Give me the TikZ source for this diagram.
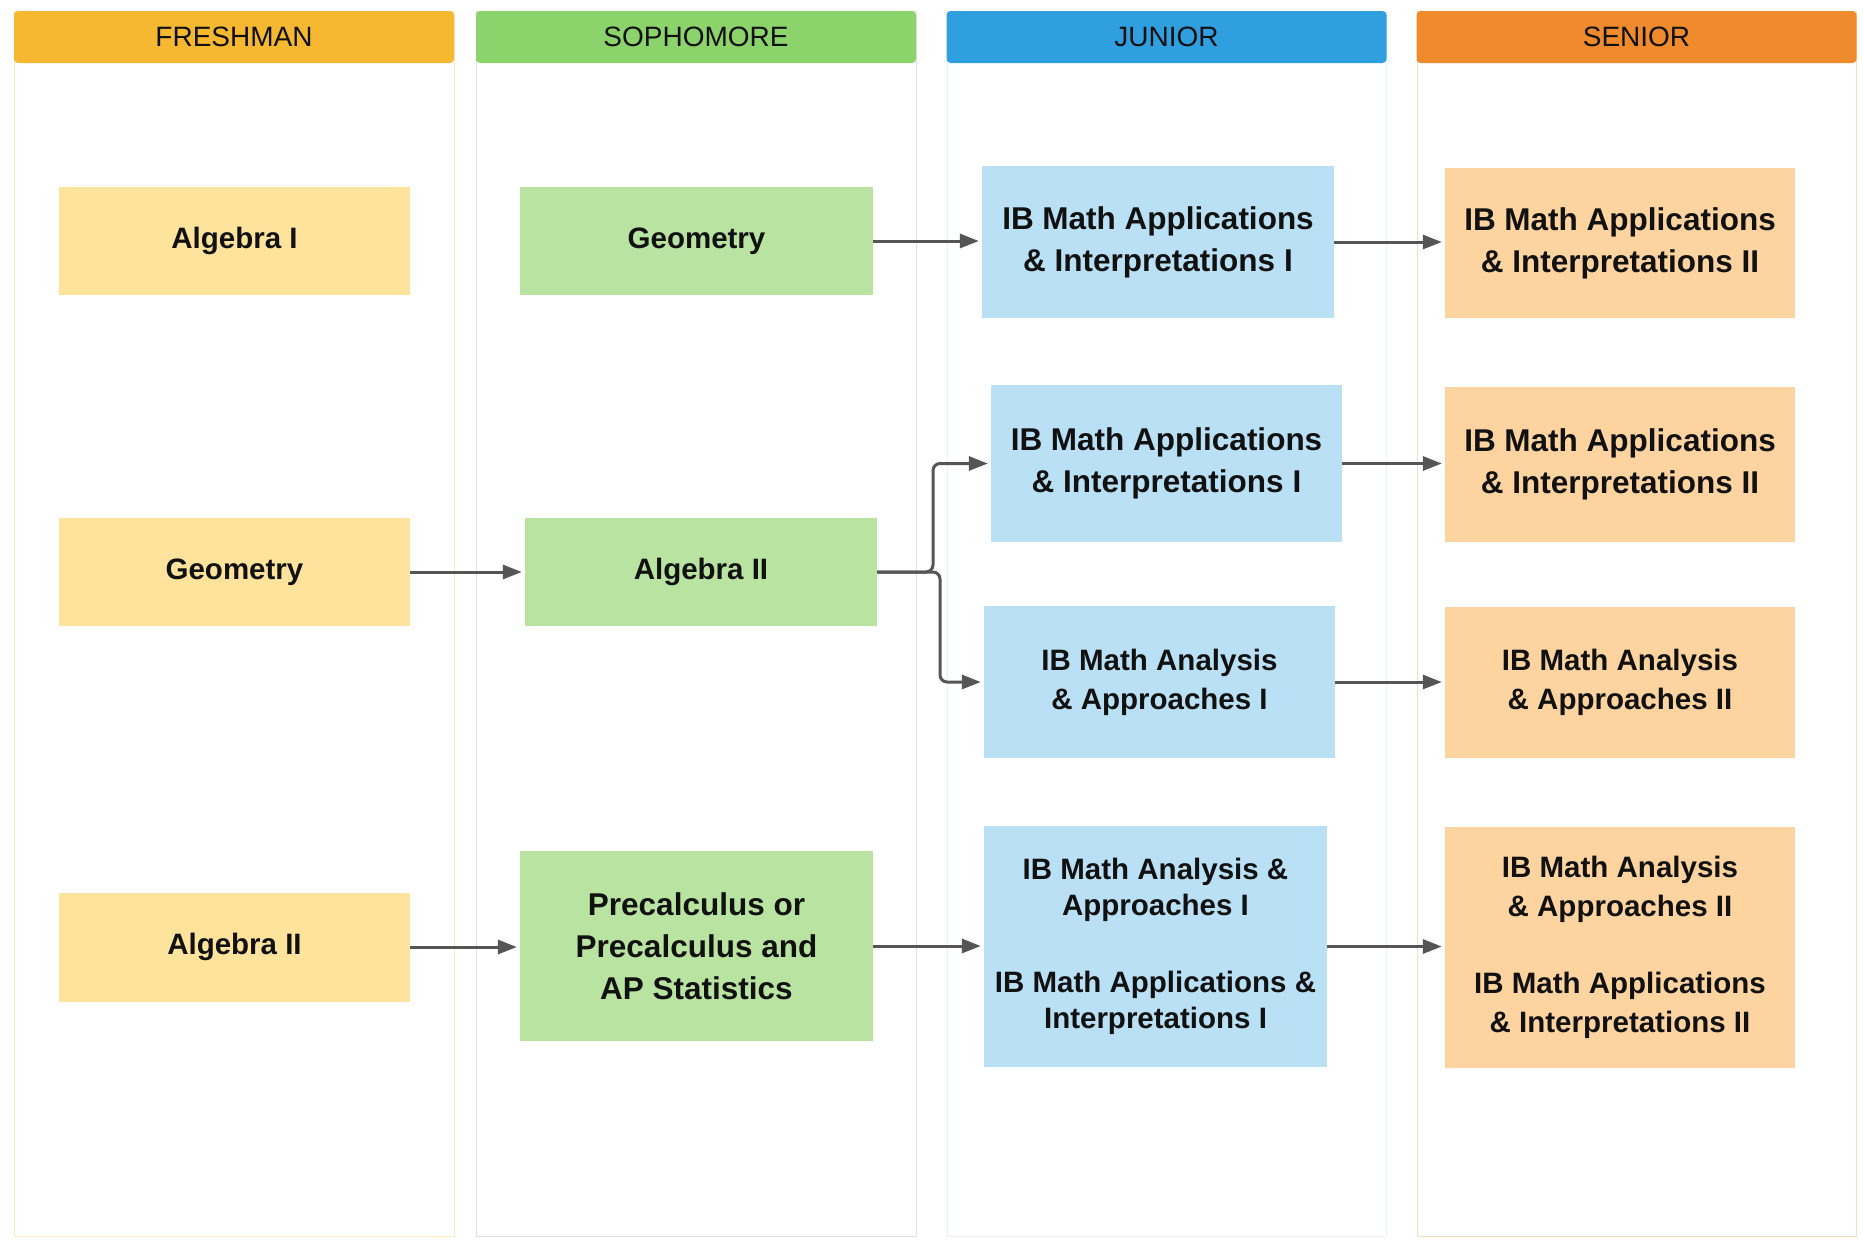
\documentclass[tikz,border=0pt]{standalone}
\usepackage{fontspec}
\setmainfont{Liberation Sans}
\usetikzlibrary{arrows.meta}
\definecolor{hfresh}{HTML}{F6B731}
\definecolor{hsoph}{HTML}{8DD36B}
\definecolor{hjun}{HTML}{2F9FE0}
\definecolor{hsen}{HTML}{EF8B2C}
\definecolor{bfresh}{HTML}{FDE39C}
\definecolor{bsoph}{HTML}{B8E3A0}
\definecolor{bjun}{HTML}{BAE0F5}
\definecolor{bsen}{HTML}{FDD3A0}
\definecolor{arrcol}{HTML}{555555}
\definecolor{txt}{HTML}{111111}
\tikzset{
  hdr/.style={minimum width=440pt, minimum height=52pt, inner sep=0pt, text=txt,
     font=\fontsize{28}{32}\selectfont, rounded corners=4pt},
  col/.style={line width=1pt},
  crs/.style={inner sep=0pt, text=txt, align=center, font=\bfseries\fontsize{29.5}{36}\selectfont},
  crsl/.style={crs, font=\bfseries\fontsize{31.5}{42}\selectfont},
  crsm/.style={crs, font=\bfseries\fontsize{29.5}{39}\selectfont},
  arr/.style={draw=arrcol, line width=3pt, shorten >=3pt, -{Triangle[length=19pt,width=14pt]}},
}
\begin{document}
\begin{tikzpicture}[x=1pt,y=-1pt]
\useasboundingbox[fill=white] (0,0) rectangle (1863,1240);
% columns
\draw[col, draw=hfresh!30] (14,11) rectangle (454,1236);
\draw[col, draw=black!12] (476,11) rectangle (916,1236);
\draw[col, draw=hjun!12] (947,11) rectangle (1386,1236);
\draw[col, draw=hsen!30] (1417,11) rectangle (1856,1236);
% headers
\node[hdr, fill=hfresh] (hf) at (234,37) {FRESHMAN};
\node[hdr, fill=hsoph] (hs) at (696,37) {SOPHOMORE};
\node[hdr, fill=hjun] (hj) at (1166.5,37) {JUNIOR};
\node[hdr, fill=hsen] (hn) at (1636.5,37) {SENIOR};
% freshman
\node[crs, fill=bfresh, minimum width=351pt, minimum height=108pt] (f1) at (234.5,241) {Algebra I};
\node[crs, fill=bfresh, minimum width=351pt, minimum height=108pt] (f2) at (234.5,572) {Geometry};
\node[crs, fill=bfresh, minimum width=351pt, minimum height=109pt] (f3) at (234.5,947) {Algebra II};
% sophomore
\node[crs, fill=bsoph, minimum width=353pt, minimum height=108pt] (s1) at (696.5,241) {Geometry};
\node[crs, fill=bsoph, minimum width=352pt, minimum height=108pt] (s2) at (701,572) {Algebra II};
\node[crsl, fill=bsoph, minimum width=353pt, minimum height=190pt] (s3) at (696.5,946) {Precalculus or\\Precalculus and\\AP Statistics};
% junior
\node[crsl, fill=bjun, minimum width=352pt, minimum height=152pt] (j1) at (1158,242) {IB Math Applications\\\& Interpretations I};
\node[crsl, fill=bjun, minimum width=351pt, minimum height=157pt] (j2) at (1166.5,463.5) {IB Math Applications\\\& Interpretations I};
\node[crsm, fill=bjun, minimum width=351pt, minimum height=152pt] (j3) at (1159.5,682) {IB Math Analysis\\\& Approaches I};
\node[crs, fill=bjun, minimum width=343pt, minimum height=241pt] (j4) at (1155.5,946.5) {IB Math Analysis \&\\Approaches I\\[41pt]IB Math Applications \&\\Interpretations I};
% senior
\node[crsl, fill=bsen, minimum width=350pt, minimum height=150pt] (n1) at (1620,243) {IB Math Applications\\\& Interpretations II};
\node[crsl, fill=bsen, minimum width=350pt, minimum height=155pt] (n2) at (1620,464.5) {IB Math Applications\\\& Interpretations II};
\node[crsm, fill=bsen, minimum width=350pt, minimum height=151pt] (n3) at (1620,682.5) {IB Math Analysis\\\& Approaches II};
\node[crsm, fill=bsen, minimum width=350pt, minimum height=241pt] (n4) at (1620,947.5) {IB Math Analysis\\\& Approaches II\\[38pt]IB Math Applications\\\& Interpretations II};
% arrows
\draw[arr] (f2.east) -- (f2.east -| s2.west);
\draw[arr] (f3.east) -- (f3.east -| s3.west);
\draw[arr] (s1.east) -- (s1.east -| j1.west);
\draw[arr] (s3.east) -- (s3.east -| j4.west);
\draw[arr] (j1.east) -- (j1.east -| n1.west);
\draw[arr] (j2.east) -- (j2.east -| n2.west);
\draw[arr] (j3.east) -- (j3.east -| n3.west);
\draw[arr] (j4.east) -- (j4.east -| n4.west);
\coordinate (splitup) at (933,572);
\coordinate (splitdn) at (940,572);
\draw[arr, rounded corners=7pt] (s2.east) -- (splitup) |- (j2.west);
\draw[arr, rounded corners=7pt] (s2.east) -- (splitdn) |- (j3.west);
\end{tikzpicture}
\end{document}
